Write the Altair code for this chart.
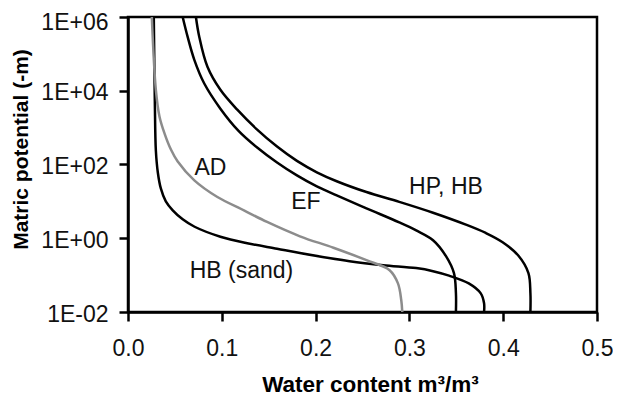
import altair as alt
import pandas as pd

# ---- data ----
series_names = ["HB (sand)", "AD", "EF", "HP, HB"]
series_colors = ["#000000", "#8c8c8c", "#000000", "#000000"]

hb_sand_theta = [0.0275, 0.0286, 0.0297, 0.0318, 0.0350, 0.0403, 0.0477, 0.0583, 0.0710, 0.0985,
                 0.1271, 0.1589, 0.1833, 0.2362, 0.2722, 0.3072, 0.3252, 0.3422, 0.3633, 0.3761,
                 0.3796, 0.3796]
hb_sand_psi = [1e6, 5370, 239, 60.8, 22.4, 10.0, 5.71, 3.26, 2.05, 1.10,
               0.733, 0.520, 0.398, 0.239, 0.186, 0.155, 0.128, 0.0968, 0.0597, 0.032,
               0.0172, 0.01]

ad_theta = [0.0254, 0.0297, 0.0336, 0.0389, 0.0459, 0.0530, 0.0707, 0.0953, 0.1236, 0.1483,
            0.1833, 0.2190, 0.2542, 0.2789, 0.2878, 0.2913, 0.2924]
ad_psi = [1e6, 1.06e4, 1980, 700, 250, 120, 37, 13.1, 5.7, 2.76,
          1.13, 0.553, 0.254, 0.136, 0.0597, 0.0211, 0.01]

ef_theta = [0.0583, 0.0636, 0.0707, 0.0813, 0.0985, 0.1176, 0.1377, 0.1589, 0.1801, 0.2013,
            0.2225, 0.2542, 0.2892, 0.3072, 0.3252, 0.3390, 0.3475, 0.3496, 0.3496]
ef_psi = [1e6, 2.88e5, 6.89e4, 1.57e4, 3270, 830, 288, 113, 50.5, 25.4,
          14.5, 6.47, 2.70, 1.64, 0.883, 0.327, 0.113, 0.0327, 0.01]

hp_theta = [0.0724, 0.0760, 0.0847, 0.0985, 0.1165, 0.1377, 0.1589, 0.1801, 0.2013, 0.2225,
            0.2542, 0.2892, 0.3252, 0.3602, 0.3814, 0.3994, 0.4163, 0.4269, 0.4290, 0.4290]
hp_psi = [1e6, 2.88e5, 4.46e4, 1.06e4, 3060, 883, 306, 125, 61.5, 35.2,
          17.9, 9.68, 4.92, 2.34, 1.39, 0.78, 0.334, 0.113, 0.0327, 0.01]

label_texts = ["AD", "EF", "HP, HB", "HB (sand)"]
label_theta = [0.0879, 0.1896, 0.339, 0.121]
label_psi = [78, 9.4, 23.9, 0.128]

y_tick_values = [0.01, 1, 100, 1e4, 1e6]
y_tick_labels = ["1E-02", "1E+00", "1E+02", "1E+04", "1E+06"]
x_tick_values = [0.0, 0.1, 0.2, 0.3, 0.4, 0.5]

# ---- build tables ----
rows = []
for name, xs, ps in zip(series_names,
                        [hb_sand_theta, ad_theta, ef_theta, hp_theta],
                        [hb_sand_psi, ad_psi, ef_psi, hp_psi]):
    for i, (x, p) in enumerate(zip(xs, ps)):
        rows.append({"series": name, "theta": x, "psi": p, "i": i})
df = pd.DataFrame(rows)
labels_df = pd.DataFrame({"label": label_texts, "theta": label_theta, "psi": label_psi})

label_array = "[" + ",".join("'%s'" % s for s in y_tick_labels) + "]"
y_label_expr = label_array + "[(round(log(datum.value)/LN10)+2)/2]"

FONT = "Liberation Sans"

x_enc = alt.X("theta:Q",
              scale=alt.Scale(domain=[0, 0.5], nice=False, zero=False),
              axis=alt.Axis(values=x_tick_values, format=".1f",
                            title="Water content m³/m³",
                            labelPadding=16, titleX=242, titleY=61,
                            titleBaseline="top", titleFontSize=22.5))
y_enc = alt.Y("psi:Q",
              scale=alt.Scale(type="log", domain=[0.01, 1e6], nice=False),
              axis=alt.Axis(values=y_tick_values, labelExpr=y_label_expr,
                            title="Matric potential (-m)",
                            labelPadding=11,
                            labelOffset={"condition": {"test": "datum.value > 100000", "value": 5},
                                         "value": 2},
                            titleX=-97, titleY=132,
                            titleBaseline="bottom", titleAngle=270,
                            titleFontSize=21))

lines = alt.Chart(df).mark_line(strokeWidth=2.5, interpolate="catmull-rom").encode(
    x=x_enc,
    y=y_enc,
    color=alt.Color("series:N", scale=alt.Scale(domain=series_names, range=series_colors), legend=None),
    order=alt.Order("i:Q"),
)

texts = alt.Chart(labels_df).mark_text(font=FONT, fontSize=23, color="#111111",
                                       align="center", baseline="middle").encode(
    x=alt.X("theta:Q"),
    y=alt.Y("psi:Q"),
    text="label:N",
)

chart = alt.layer(lines, texts).properties(
    width=469, height=295,
    autosize=alt.AutoSizeParams(type="none"),
    padding={"left": 120, "top": 9, "right": 16, "bottom": 85},
).configure_view(
    stroke="#000000", strokeWidth=2.5
).configure_axis(
    grid=False, domainColor="#000000", domainWidth=2.5,
    tickColor="#000000", tickWidth=2.5, tickSize=9,
    labelFont=FONT, labelFontSize=23, labelColor="#111111",
    labelFlush=False, labelOverlap=False,
    titleFont=FONT, titleFontWeight="bold", titleColor="#000000",
)

chart.save("out.html", embed_options={"renderer": "svg", "actions": False})
